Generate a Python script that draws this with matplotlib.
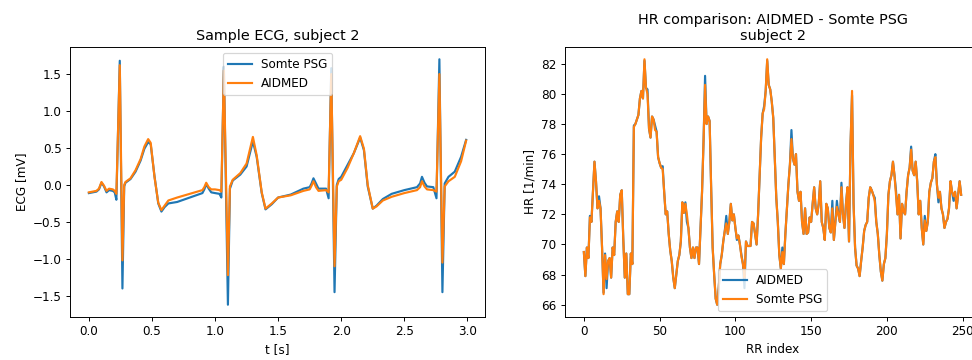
import numpy as np
import matplotlib
matplotlib.use("Agg")
import matplotlib.pyplot as plt

# ---- sample ECG, subject 2 ----
ecg_t = [0.00, 0.03, 0.06, 0.08, 0.10, 0.12, 0.14, 0.16, 0.19, 0.205,
         0.218, 0.245, 0.266, 0.28, 0.29, 0.33, 0.37, 0.41, 0.44, 0.47,
         0.49, 0.52, 0.55, 0.575, 0.60, 0.63, 0.70, 0.80, 0.90, 0.915,
         0.93, 0.95, 0.97, 1.00, 1.035, 1.05, 1.07, 1.102, 1.118, 1.14,
         1.20, 1.25, 1.30, 1.33, 1.37, 1.40, 1.45, 1.50, 1.60, 1.70,
         1.75, 1.765, 1.78, 1.80, 1.82, 1.88, 1.90, 1.921, 1.947, 1.965,
         1.98, 2.00, 2.05, 2.10, 2.15, 2.18, 2.21, 2.25, 2.28, 2.33,
         2.40, 2.50, 2.60, 2.625, 2.64, 2.66, 2.68, 2.73, 2.755, 2.778,
         2.802, 2.82, 2.85, 2.90, 2.95, 2.99]
ecg_somte = [-0.11, -0.10, -0.09, -0.06, 0.03, -0.02, -0.10, -0.07, -0.08, -0.10,
             -0.20, 1.68, -1.40, -0.02, 0.03, 0.08, 0.18, 0.33, 0.49, 0.58,
             0.55, 0.12, -0.25, -0.36, -0.30, -0.25, -0.23, -0.17, -0.11, -0.06,
             0.01, -0.05, -0.10, -0.11, -0.12, -0.17, 1.60, -1.62, -0.05, 0.06,
             0.14, 0.25, 0.59, 0.38, -0.11, -0.33, -0.26, -0.17, -0.13, -0.05,
             -0.03, 0.02, 0.09, 0.02, -0.05, -0.05, -0.18, 1.58, -1.45, 0.00,
             0.08, 0.11, 0.27, 0.43, 0.64, 0.47, -0.02, -0.32, -0.28, -0.19,
             -0.12, -0.07, -0.03, 0.02, 0.11, 0.03, -0.02, -0.03, -0.18, 1.70,
             -1.45, 0.02, 0.11, 0.18, 0.38, 0.61]
ecg_aidmed = [-0.10, -0.09, -0.08, -0.05, 0.04, -0.01, -0.08, -0.05, -0.06, -0.08,
              -0.12, 1.62, -1.02, 0.00, 0.04, 0.09, 0.20, 0.35, 0.52, 0.62,
              0.57, 0.11, -0.24, -0.34, -0.28, -0.21, -0.17, -0.12, -0.07, -0.03,
              0.03, -0.03, -0.06, -0.06, -0.07, -0.09, 1.55, -1.22, -0.02, 0.07,
              0.16, 0.29, 0.65, 0.40, -0.10, -0.32, -0.25, -0.17, -0.14, -0.08,
              -0.06, -0.01, 0.05, -0.03, -0.08, -0.07, -0.10, 1.50, -1.10, -0.02,
              0.05, 0.07, 0.23, 0.43, 0.66, 0.49, 0.00, -0.32, -0.29, -0.21,
              -0.16, -0.11, -0.07, -0.03, 0.05, -0.02, -0.06, -0.07, -0.09, 1.50,
              -1.05, -0.02, 0.05, 0.11, 0.32, 0.60]

# ---- HR per RR interval ----
hr_somte = [
    69.5, 67.9, 69.8, 69.1, 71.8, 71.5, 73.5, 75.5, 74.2, 72.4,
    72.9, 72.4, 69.8, 66.7, 69.3, 67.7, 68.9, 69.1, 67.8, 69.8,
    69.3, 71.5, 72.2, 71.5, 73.3, 73.6, 70.4, 67.8, 69.4, 66.7,
    66.7, 69.4, 68.7, 77.8, 78.0, 78.3, 78.6, 79.7, 80.2, 79.7,
    82.3, 80.4, 80.0, 77.7, 77.1, 78.5, 78.3, 77.6, 77.5, 75.8,
    75.4, 75.1, 75.0, 73.5, 72.0, 72.2, 70.7, 69.6, 68.9, 67.8,
    67.1, 68.0, 68.9, 69.3, 70.2, 72.8, 72.1, 72.7, 72.0, 71.1,
    69.8, 69.1, 69.8, 69.1, 69.8, 69.8, 68.7, 71.1, 73.5, 76.9,
    80.6, 78.0, 78.5, 78.2, 73.8, 69.8, 68.0, 66.4, 66.0, 67.1,
    68.7, 69.3, 70.2, 70.9, 71.4, 70.7, 71.5, 72.7, 71.6, 72.0,
    71.1, 70.4, 70.6, 70.0, 69.2, 68.7, 67.8, 70.2, 69.9, 69.9,
    69.9, 71.5, 71.4, 70.7, 70.0, 72.0, 74.6, 77.1, 78.7, 79.0,
    80.2, 82.3, 80.6, 80.3, 79.5, 78.4, 75.7, 73.1, 71.5, 69.3,
    68.4, 69.5, 68.7, 70.7, 72.4, 74.0, 75.3, 77.0, 75.7, 75.3,
    76.0, 73.5, 72.9, 73.5, 71.5, 70.7, 72.4, 70.7, 70.8, 71.8,
    71.5, 72.7, 73.8, 72.4, 72.0, 72.7, 74.2, 71.5, 71.1, 70.3,
    72.7, 72.4, 71.1, 70.8, 72.4, 70.3, 71.5, 72.5, 72.0, 71.5,
    73.8, 72.0, 71.1, 72.7, 73.8, 70.2, 76.6, 80.2, 72.7, 69.8,
    68.6, 68.4, 67.9, 68.9, 69.8, 70.9, 71.3, 71.5, 73.1, 73.8,
    73.6, 73.3, 72.9, 71.5, 70.7, 69.3, 68.2, 67.6, 68.7, 69.1,
    70.7, 73.3, 74.2, 74.6, 75.5, 74.6, 73.3, 72.0, 73.3, 70.4,
    72.7, 72.2, 72.0, 73.5, 74.6, 75.1, 76.3, 74.9, 74.6, 75.5,
    74.2, 72.0, 72.9, 71.1, 70.0, 71.6, 70.9, 71.5, 73.5, 74.1,
    74.4, 75.5, 75.8, 74.0, 73.1, 73.5, 72.4, 72.0, 71.1, 71.5,
    71.7, 72.4, 74.2, 73.5, 73.2, 73.5, 72.4, 73.3, 74.2, 73.3]
hr_aidmed = [
    69.5, 67.9, 69.8, 69.1, 71.9, 71.5, 73.5, 75.5, 74.2, 72.4,
    73.2, 72.4, 69.8, 66.8, 69.4, 67.1, 68.9, 69.1, 67.8, 69.8,
    69.3, 71.5, 72.2, 71.5, 73.3, 73.6, 70.4, 67.8, 69.4, 66.7,
    66.7, 69.4, 68.7, 77.9, 78.0, 78.3, 78.6, 79.7, 80.2, 79.7,
    82.2, 80.4, 80.3, 77.7, 77.1, 78.5, 78.3, 77.9, 77.5, 75.8,
    75.4, 75.1, 75.2, 73.5, 72.0, 72.2, 70.7, 69.6, 68.9, 67.8,
    67.1, 68.0, 68.9, 69.3, 70.2, 72.8, 72.1, 72.8, 71.5, 71.1,
    69.8, 69.1, 69.8, 69.1, 69.8, 69.8, 68.7, 71.1, 73.5, 76.9,
    81.2, 78.0, 78.5, 78.2, 73.8, 69.8, 68.0, 66.4, 66.0, 67.1,
    68.7, 69.3, 70.2, 70.9, 71.9, 70.7, 71.5, 72.7, 71.6, 72.0,
    71.1, 70.3, 70.6, 70.0, 69.3, 68.7, 67.1, 70.2, 69.9, 69.9,
    69.9, 71.5, 71.4, 70.7, 70.0, 72.0, 74.6, 77.1, 78.7, 79.2,
    80.2, 82.2, 80.6, 80.3, 79.5, 78.4, 75.7, 73.1, 71.5, 69.3,
    68.4, 69.8, 68.7, 70.7, 72.4, 74.0, 75.3, 77.6, 75.7, 75.3,
    76.0, 73.5, 72.9, 73.5, 71.5, 70.7, 72.4, 70.7, 70.8, 71.8,
    71.5, 72.7, 73.8, 72.4, 72.0, 72.7, 74.2, 71.5, 71.1, 70.3,
    72.7, 72.4, 71.1, 70.8, 72.9, 70.3, 71.5, 72.9, 72.0, 71.5,
    74.1, 72.0, 71.1, 72.7, 73.8, 70.2, 76.6, 79.9, 72.7, 69.8,
    68.6, 68.4, 67.9, 68.9, 69.8, 70.9, 71.3, 71.5, 73.1, 73.8,
    73.6, 73.3, 73.1, 71.5, 70.7, 69.3, 68.2, 67.6, 68.7, 69.1,
    70.7, 73.3, 74.2, 74.6, 75.5, 74.6, 73.6, 72.0, 73.3, 70.4,
    72.7, 72.2, 72.0, 73.5, 74.6, 75.1, 76.5, 74.9, 74.6, 75.5,
    74.2, 72.0, 72.9, 71.1, 70.0, 71.9, 70.9, 71.5, 73.5, 74.1,
    74.4, 75.5, 76.0, 74.0, 72.8, 73.5, 72.4, 72.0, 71.1, 71.5,
    71.7, 72.4, 74.2, 73.5, 72.9, 73.5, 72.4, 73.3, 74.2, 73.3]

DPI = 86.4
fig = plt.figure(figsize=(972 / DPI, 360 / DPI), dpi=DPI)

# the right panel runs past the canvas edge, as in the original screenshot
ax1 = fig.add_axes([70 / 972, 43 / 360, 415 / 972, 270 / 360])
ax2 = fig.add_axes([565 / 972, 43 / 360, 415 / 972, 270 / 360])

lw = 1.8
ax1.plot(ecg_t, ecg_somte, lw=lw, label="Somte PSG")
ax1.plot(ecg_t, ecg_aidmed, lw=lw, label="AIDMED")
ax1.set_title("Sample ECG, subject 2")
ax1.set_xlabel("t [s]")
ax1.set_ylabel("ECG [mV]")
ax1.legend(loc="upper center")

rr = np.arange(len(hr_somte))
ax2.plot(rr, hr_aidmed, lw=lw, label="AIDMED")
ax2.plot(rr, hr_somte, lw=lw, label="Somte PSG")
ax2.set_title("HR comparison: AIDMED - Somte PSG\nsubject 2")
ax2.set_xlabel("RR index")
ax2.set_ylabel("HR [1/min]")
ax2.set_yticks([66, 68, 70, 72, 74, 76, 78, 80, 82])
ax2.legend(loc="lower center")

fig.savefig("out.png", dpi=DPI)
